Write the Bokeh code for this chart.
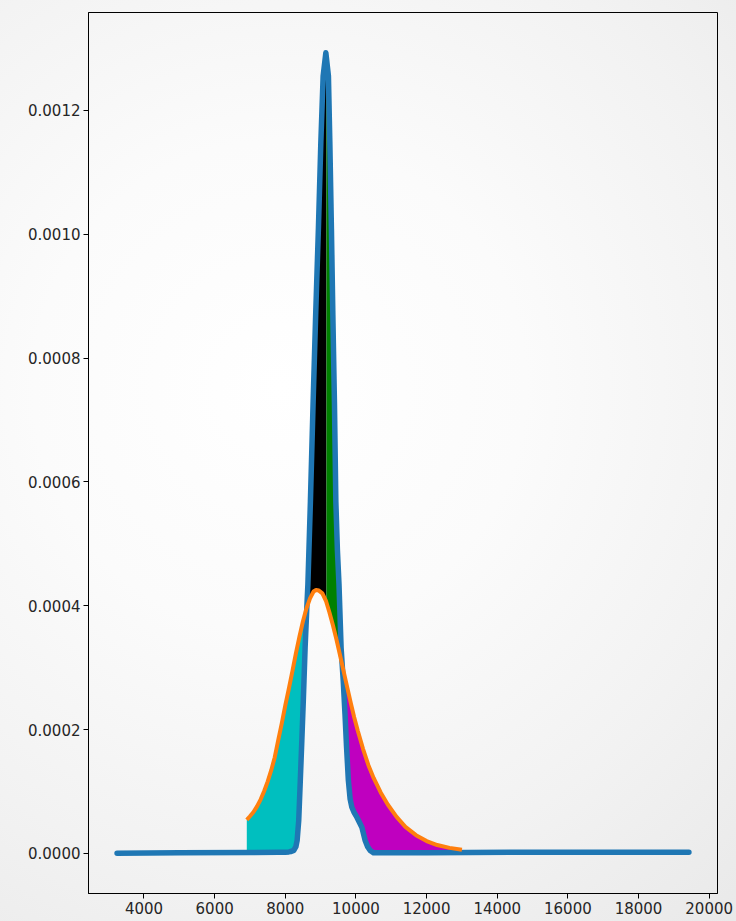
import numpy as np
from bokeh.plotting import figure
from bokeh.models import FixedTicker, NumeralTickFormatter, Range1d
from bokeh.embed import file_html
from bokeh.resources import INLINE

# ---- data ----
blue_x = [3238, 5000, 7000, 7800, 8000, 8100, 8150, 8240, 8300, 8335, 8380, 8425, 8468, 8513,
          8561, 8609, 8640, 8711, 8788, 8860, 8937, 9006, 9071, 9148, 9221, 9261,
          9306, 9346, 9391, 9431, 9475, 9520, 9580, 9640, 9690, 9735, 9785, 9835, 9884, 9950,
          10026, 10100, 10167, 10261, 10330, 10403, 10496, 12000, 14900, 17000, 19426]
blue_y = [0.0000005, 0.000001, 0.0000015, 0.000002, 0.000002, 0.0000025, 0.000003, 0.000005,
          0.000011, 0.000021, 0.000053, 0.000118, 0.000182, 0.0002517, 0.0003322, 0.0003966,
          0.0004348, 0.0005684, 0.0007295, 0.00087, 0.0010085, 0.0011481, 0.0012555,
          0.001293, 0.0012555, 0.0011481, 0.0010085, 0.00087, 0.0007295, 0.0005684,
          0.00049, 0.000435, 0.000332, 0.000279, 0.000225, 0.000171, 0.000118, 0.000088,
          0.0000746, 0.000066, 0.0000585, 0.00005, 0.0000424, 0.0000209, 0.000011, 0.0000048,
          0.000001, 0.000001, 0.000002, 0.000002, 0.000002]

orange_x = [6910, 7000, 7100, 7200, 7300, 7400, 7500, 7600, 7700, 7800, 7900, 8000, 8100, 8200,
            8300, 8400, 8500, 8600, 8700, 8800, 8870, 8950, 9050, 9150, 9250, 9350, 9450, 9550,
            9650, 9750, 9850, 9950, 10050, 10200, 10350, 10500, 10700, 10900, 11150, 11400,
            11700, 12000, 12300, 12650, 13000]
orange_y = [0.0000543, 0.00006, 0.0000668, 0.000076, 0.000087, 0.0001005, 0.000116, 0.000134,
            0.000155, 0.000183, 0.00021, 0.000239, 0.000266, 0.000294, 0.000323, 0.00035,
            0.000375, 0.000396, 0.000412, 0.000423, 0.0004255, 0.0004245, 0.00042, 0.000408,
            0.000389, 0.000368, 0.000345, 0.00032, 0.0002945, 0.000269, 0.000244, 0.00022,
            0.0001985, 0.000169, 0.000143, 0.000122, 0.0000985, 0.000079, 0.000059, 0.000043,
            0.0000295, 0.00002, 0.0000135, 0.000009, 0.000006]

split_x = 9165  # boundary between the black and green fills

x_ticks = [4000, 6000, 8000, 10000, 12000, 14000, 16000, 18000, 20000]
y_ticks = [0.0, 0.0002, 0.0004, 0.0006, 0.0008, 0.0010, 0.0012]

# ---- fill geometry derived from the two curves ----
bx = np.array(blue_x, float); by = np.array(blue_y, float)
ox = np.array(orange_x, float); oy = np.array(orange_y, float)
grid = np.unique(np.concatenate([bx[(bx >= ox[0]) & (bx <= ox[-1])], ox, [split_x]]))
gb = np.interp(grid, bx, by)
go = np.interp(grid, ox, oy)
d = go - gb
xs = [grid[0]]; b_ = [gb[0]]; o_ = [go[0]]
for i in range(1, len(grid)):
    if d[i - 1] * d[i] < 0:
        t = d[i - 1] / (d[i - 1] - d[i])
        xc = grid[i - 1] + t * (grid[i] - grid[i - 1])
        yc = gb[i - 1] + t * (gb[i] - gb[i - 1])
        xs.append(xc); b_.append(yc); o_.append(yc)
    xs.append(grid[i]); b_.append(gb[i]); o_.append(go[i])
xs = np.array(xs); b_ = np.array(b_); o_ = np.array(o_)

p = figure(width=736, height=921, output_backend="svg", toolbar_location=None,
           x_range=Range1d(2429, 20235), y_range=Range1d(-0.0000647, 0.001358),
           min_border_left=88, min_border_right=19, min_border_top=12, min_border_bottom=28)
p.background_fill_color = None
p.border_fill_color = None
p.styles = {"background": "radial-gradient(circle at 38% 42%, #ffffff 0%, #fbfbfb 35%, #f2f2f2 70%, #e9e9e9 100%)"}
p.outline_line_color = "black"
p.outline_line_width = 1
p.xgrid.visible = False
p.ygrid.visible = False


def seg_info(i):
    xm = 0.5 * (xs[i] + xs[i + 1])
    dm = 0.5 * ((o_[i] - b_[i]) + (o_[i + 1] - b_[i + 1]))
    return xm, dm


def draw_segments(mask_fn, color):
    cond = np.array([mask_fn(*seg_info(i)) for i in range(len(xs) - 1)])
    i = 0
    while i < len(cond):
        if cond[i]:
            j = i
            while j < len(cond) and cond[j]:
                j += 1
            sl = slice(i, j + 1)
            p.varea(x=xs[sl], y1=b_[sl], y2=o_[sl], fill_color=color, fill_alpha=1.0)
            i = j
        else:
            i += 1


draw_segments(lambda xm, dm: dm >= 0 and xm < split_x, "#00bfbf")
draw_segments(lambda xm, dm: dm < 0 and xm < split_x, "#000000")
draw_segments(lambda xm, dm: dm < 0 and xm >= split_x, "#008000")
draw_segments(lambda xm, dm: dm >= 0 and xm >= split_x, "#bf00bf")

p.line(blue_x, blue_y, line_color="#1f77b4", line_width=5.5, line_cap="round", line_join="round")
p.line(orange_x, orange_y, line_color="#ff7f0e", line_width=4, line_join="round")

for ax in (p.xaxis[0], p.yaxis[0]):
    ax.axis_line_color = "black"
    ax.major_tick_line_color = "black"
    ax.major_tick_out = 5
    ax.major_tick_in = 0
    ax.minor_tick_line_color = None
    ax.major_label_text_font = "DejaVu Sans"
    ax.major_label_text_font_size = "15px"
    ax.major_label_text_color = "#262626"
    ax.major_label_standoff = 3

p.xaxis[0].ticker = FixedTicker(ticks=x_ticks)
p.yaxis[0].ticker = FixedTicker(ticks=y_ticks)
p.yaxis[0].formatter = NumeralTickFormatter(format="0.0000")
p.xaxis[0].formatter = NumeralTickFormatter(format="0")

open("out.html", "w").write(file_html(p, INLINE))
